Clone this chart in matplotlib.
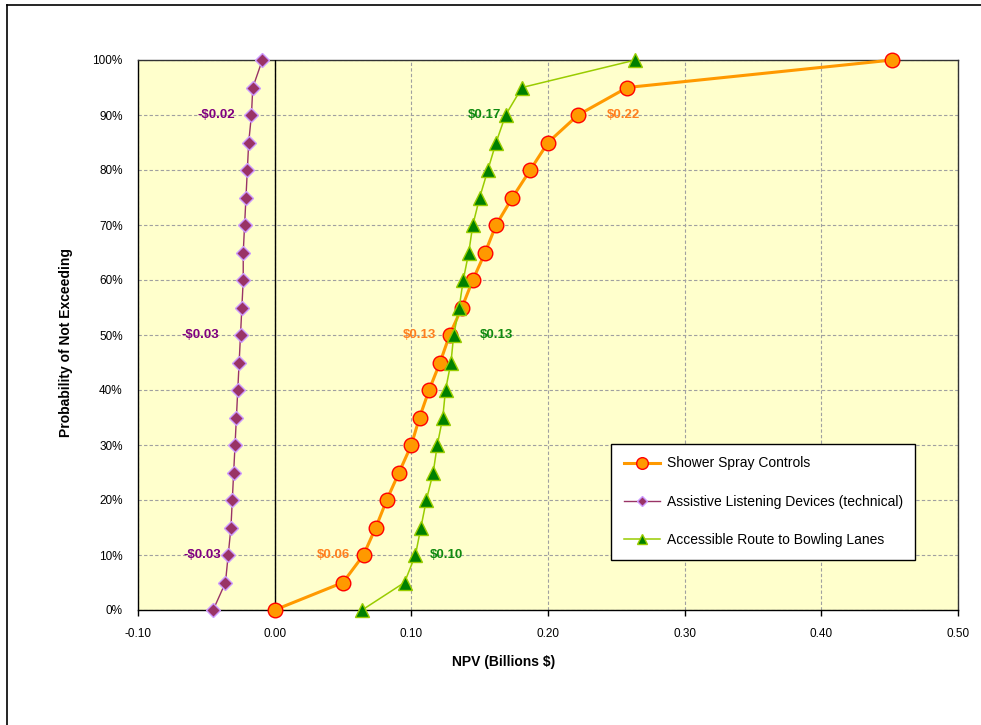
import matplotlib
matplotlib.use("Agg")
import matplotlib.pyplot as plt
from matplotlib.lines import Line2D
import numpy as np

plt.rcParams['font.family'] = ['Liberation Sans', 'DejaVu Sans']

prob = [0, 5, 10, 15, 20, 25, 30, 35, 40, 45, 50, 55, 60, 65, 70, 75, 80, 85, 90, 95, 100]

shower = [0.000, 0.050, 0.065, 0.074, 0.082, 0.091, 0.100, 0.106, 0.113, 0.121, 0.128,
          0.137, 0.145, 0.154, 0.162, 0.174, 0.187, 0.200, 0.222, 0.258, 0.452]
assistive = [-0.045, -0.036, -0.034, -0.032, -0.031, -0.030, -0.029, -0.028, -0.027, -0.026, -0.025,
             -0.024, -0.023, -0.023, -0.022, -0.021, -0.020, -0.019, -0.017, -0.016, -0.009]
bowling = [0.064, 0.095, 0.103, 0.107, 0.111, 0.116, 0.119, 0.123, 0.125, 0.129, 0.131,
           0.135, 0.138, 0.142, 0.145, 0.150, 0.156, 0.162, 0.169, 0.181, 0.264]

series_names = ["Shower Spray Controls",
                "Assistive Listening Devices (technical)",
                "Accessible Route to Bowling Lanes"]

# data labels at 10%, 50%, 90%
label_idx = [2, 10, 18]
shower_labels = ["$0.06", "$0.13", "$0.22"]
assistive_labels = ["-$0.03", "-$0.03", "-$0.02"]
bowling_labels = ["$0.10", "$0.13", "$0.17"]

xticks = [-0.10, 0.0, 0.10, 0.20, 0.30, 0.40, 0.50]
yticks = list(range(0, 101, 10))

fig = plt.figure(figsize=(9.81, 7.25), dpi=100)
ax = fig.add_axes([138 / 981, 115 / 725, 820 / 981, 550 / 725])
ax.set_facecolor('#FFFFCC')

ax.plot(shower, prob, color='#FF9900', lw=2.2, marker='o', ms=10.5,
        mfc='#FF9900', mec='#FF0000', mew=1.0, label=series_names[0], zorder=4, clip_on=False)
ax.plot(assistive, prob, color='#993366', lw=1.0, marker='D', ms=7,
        mfc='#993366', mec='#CC99FF', mew=1.0, label=series_names[1], zorder=4, clip_on=False)
ax.plot(bowling, prob, color='#99CC00', lw=1.1, marker='^', ms=9.5,
        mfc='#008000', mec='#99CC00', mew=1.0, label=series_names[2], zorder=5, clip_on=False)

ax.axvline(0, color='black', lw=1.0, zorder=3)

ax.set_xlim(-0.10, 0.50)
ax.set_ylim(0, 100)
ax.set_xticks(xticks)
ax.set_xticklabels([f"{v:.2f}" for v in xticks])
ax.set_yticks(yticks)
ax.set_yticklabels([f"{v}%" for v in yticks])
ax.tick_params(axis='x', length=4, width=1, direction='out', pad=9, labelsize=8.5, colors='black')
ax.tick_params(axis='y', length=0, pad=11, labelsize=8.5)
ax.grid(True, color='#A0A0A0', ls=(0, (3, 2)), lw=0.8, zorder=1)
for s in ax.spines.values():
    s.set_color('#333333')
    s.set_linewidth(1.0)
ax.spines['bottom'].set_color('black')
ax.spines['left'].set_color('black')

ax.set_xlabel("NPV (Billions $)", fontsize=10, fontweight='bold')
ax.set_ylabel("Probability of Not Exceeding", fontsize=10, fontweight='bold')
ax.xaxis.set_label_coords(0.4457, -0.082)
ax.yaxis.set_label_coords(-0.079, 0.4855)

# data labels (offset in points, alignment)
shower_off = [(-10, 'right'), (-10, 'right'), (21, 'left')]
assistive_off = [(-5, 'right'), (-15, 'right'), (-12, 'right')]
bowling_off = [(10, 'left'), (19, 'left'), (-3, 'right')]

for vals, texts, offs, col in [(shower, shower_labels, shower_off, '#FF7F1E'),
                               (assistive, assistive_labels, assistive_off, '#800080'),
                               (bowling, bowling_labels, bowling_off, '#108A10')]:
    for i, t, (dx, ha) in zip(label_idx, texts, offs):
        ax.annotate(t, (vals[i], prob[i]), xytext=(dx, 0), textcoords='offset points',
                    ha=ha, va='center', fontsize=9.5, fontweight='bold', color=col, zorder=6)

leg = ax.legend(loc='upper left', bbox_to_anchor=((611 - 138) / 820, (610 - 444) / 550),
                fontsize=10, frameon=True, fancybox=False, framealpha=1, edgecolor='black',
                labelspacing=1.75, handlelength=2.6, handletextpad=0.5, borderpad=0.9,
                borderaxespad=0, markerscale=0.8)
leg.get_frame().set_linewidth(1.0)
leg.set_zorder(10)

# chart area border
fig.add_artist(Line2D([7 / 981, 7 / 981], [0, 720 / 725], color='black', lw=1.2,
                      transform=fig.transFigure))
fig.add_artist(Line2D([7 / 981, 1], [720 / 725, 720 / 725], color='black', lw=1.2,
                      transform=fig.transFigure))

fig.savefig("out.png", dpi=100)
